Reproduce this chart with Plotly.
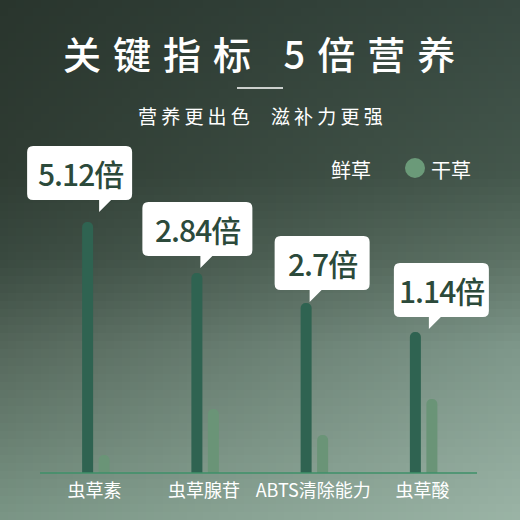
import plotly.graph_objects as go

# ---------------- data ----------------
categories = ["虫草素", "虫草腺苷", "ABTS清除能力", "虫草酸"]
series_names = ["鲜草", "干草"]
fresh = [251, 200, 170, 141]
dry = [18, 64, 38, 74]
multiples = ["5.12倍", "2.84倍", "2.7倍", "1.14倍"]

title_text = "关键指标 5倍营养"
subtitle_text = "营养更出色  滋补力更强"

# ---------------- layout constants (pixels) ----------------
W = H = 520
PL, PR, PB = 40, 477, 473          # baseline extent / position in px
N_CAT = len(categories)
unit = (PR - PL) / N_CAT            # px per category
bar_w = 11 / unit
fresh_c = -7 / unit
dry_c = 9.5 / unit

FONT = "Noto Sans CJK SC"
FRESH_COL = "#2f6351"
DRY_COL = "#6a9477"


def px(x):
    return x / W


def py(y):
    return 1 - y / H


# callout styling (pixel offsets relative to the top centre of each fresh bar)
tip_dx = [11.5, 3.5, 3.5, 13.5]
tip_up = [10, 5, 1, 3]
box_left = [-72, -58, -35, -35]
box_w = [105, 110, 95, 95]
BOX_H, PTR_H, PTR_W, RAD = 54, 12, 12, 6

# ---------------- background gradient ----------------
left_stops = [(0, (41, 53, 45)), (0.33, (47, 60, 51)), (0.5, (58, 74, 64)),
              (0.67, (85, 103, 91)), (1, (122, 149, 133))]
right_stops = [(0, (55, 72, 64)), (0.33, (68, 87, 76)), (0.5, (93, 114, 101)),
               (0.67, (126, 151, 138)), (1, (154, 179, 165))]


def interp(stops, v):
    for (a, ca), (b, cb) in zip(stops[:-1], stops[1:]):
        if a <= v <= b:
            t = (v - a) / (b - a)
            return [ca[k] + (cb[k] - ca[k]) * t for k in range(3)]
    return list(stops[-1][1])


G = 64
grad = []
for r in range(G):
    v = r / (G - 1)
    lc = interp(left_stops, v)
    rc = interp(right_stops, v)
    row = []
    for c in range(G):
        u = c / (G - 1)
        row.append([int(round(lc[k] + (rc[k] - lc[k]) * u)) for k in range(3)])
    grad.append(row)

fig = go.Figure()
fig.add_trace(go.Image(z=grad, xaxis="x", yaxis="y", hoverinfo="skip", zsmooth="fast"))

xs = list(range(N_CAT))
fig.add_trace(go.Bar(x=xs, y=fresh, name=series_names[0], width=bar_w, offset=fresh_c - bar_w / 2,
                     marker=dict(color=FRESH_COL, cornerradius="50%", line=dict(width=0)),
                     xaxis="x2", yaxis="y2", showlegend=False, hoverinfo="skip"))
fig.add_trace(go.Bar(x=xs, y=dry, name=series_names[1], width=bar_w, offset=dry_c - bar_w / 2,
                     marker=dict(color=DRY_COL, cornerradius="50%", line=dict(width=0)),
                     xaxis="x2", yaxis="y2", showlegend=False, hoverinfo="skip"))

shapes = []
annotations = []


def f(v):
    return f"{v:.2f}"


for i in range(N_CAT):
    tx, ty = tip_dx[i], tip_up[i]
    xl = tx + box_left[i]
    xr = xl + box_w[i]
    yb = ty + PTR_H
    yt = yb + BOX_H
    p = (f"M{f(xl+RAD)},{f(yt)} L{f(xr-RAD)},{f(yt)} Q{f(xr)},{f(yt)} {f(xr)},{f(yt-RAD)} "
         f"L{f(xr)},{f(yb+RAD)} Q{f(xr)},{f(yb)} {f(xr-RAD)},{f(yb)} "
         f"L{f(tx+PTR_W)},{f(yb)} L{f(tx)},{f(ty)} L{f(tx)},{f(yb)} "
         f"L{f(xl+RAD)},{f(yb)} Q{f(xl)},{f(yb)} {f(xl)},{f(yb+RAD)} "
         f"L{f(xl)},{f(yt-RAD)} Q{f(xl)},{f(yt)} {f(xl+RAD)},{f(yt)} Z")
    shapes.append(dict(type="path", path=p, xref="x2", yref="y2",
                       xsizemode="pixel", ysizemode="pixel",
                       xanchor=i + fresh_c, yanchor=fresh[i],
                       fillcolor="white", line=dict(width=0), layer="above"))
    annotations.append(dict(x=i + fresh_c, y=fresh[i], xref="x2", yref="y2",
                            xshift=(xl + xr) / 2 + 0.5, yshift=(yb + yt) / 2,
                            text=f"<span style='letter-spacing:-1px'>{multiples[i]}</span>",
                            showarrow=False, xanchor="center", yanchor="middle",
                            font=dict(family=FONT, size=30, color="#2c4a3b", weight=500)))

# baseline
shapes.append(dict(type="line", xref="x2", yref="y2", x0=-0.5, x1=N_CAT - 0.5, y0=0, y1=0,
                   line=dict(color="#3e9068", width=1.6), layer="above"))

# title
annotations.append(dict(x=px(259), y=py(53), xref="paper", yref="paper", xshift=6,
                        text=f"<span style='letter-spacing:12px'>{title_text}</span>",
                        showarrow=False, xanchor="center", yanchor="middle",
                        font=dict(family=FONT, size=38, color="white", weight=500)))
shapes.append(dict(type="line", xref="paper", yref="paper", x0=px(237), x1=px(283),
                   y0=py(88), y1=py(88), line=dict(color="white", width=1.5)))
annotations.append(dict(x=px(260), y=py(115), xref="paper", yref="paper", xshift=2,
                        text=f"<span style='letter-spacing:4.2px'>{subtitle_text}</span>",
                        showarrow=False, xanchor="center", yanchor="middle",
                        font=dict(family=FONT, size=19, color="white")))

# legend
annotations.append(dict(x=px(351), y=py(170), xref="paper", yref="paper", text=series_names[0],
                        showarrow=False, xanchor="center", yanchor="middle",
                        font=dict(family=FONT, size=20, color="white")))
annotations.append(dict(x=px(451), y=py(170), xref="paper", yref="paper", text=series_names[1],
                        showarrow=False, xanchor="center", yanchor="middle",
                        font=dict(family=FONT, size=20, color="white")))
shapes.append(dict(type="circle", xref="paper", yref="paper", x0=px(405), x1=px(425),
                   y0=py(178), y1=py(158), fillcolor="#6b9a79", line=dict(width=0)))

# axis 2 spans the whole figure so callouts are never clipped; ranges keep 1 px per y unit
x2_range = [-0.5 - PL / unit, N_CAT - 0.5 + (W - PR) / unit]
y2_range = [-(H - PB), PB]

fig.update_layout(
    width=W, height=H,
    margin=dict(l=0, r=0, t=0, b=0),
    paper_bgcolor="#2f3c33", plot_bgcolor="rgba(0,0,0,0)",
    showlegend=False,
    xaxis=dict(domain=[0, 1], range=[-0.5, G - 0.5], visible=False, fixedrange=True),
    yaxis=dict(domain=[0, 1], range=[G - 0.5, -0.5], visible=False, fixedrange=True),
    xaxis2=dict(domain=[0, 1], anchor="free", position=1 - PB / H, range=x2_range,
                tickvals=xs, ticktext=categories, ticks="", showgrid=False, zeroline=False,
                showline=False, fixedrange=True, ticklabelstandoff=5,
                tickfont=dict(family=FONT, size=18, color="white")),
    yaxis2=dict(domain=[0, 1], anchor="x2", range=y2_range,
                visible=False, fixedrange=True),
    shapes=shapes, annotations=annotations,
)

fig.write_html("out.html", config={"displayModeBar": False},
               post_script="document.body.style.margin='0';document.body.style.overflow='hidden';")
